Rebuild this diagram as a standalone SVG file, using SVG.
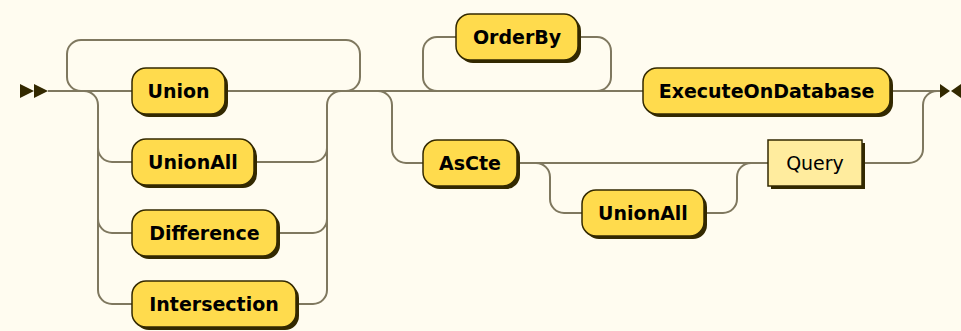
<svg xmlns="http://www.w3.org/2000/svg" width="961" height="331" viewBox="0 0 961 331">
<style>
.bg{fill:#FFFCF0}
.line{fill:none;stroke:#7f785f;stroke-width:2}
.mk{fill:#332900}
.sh{fill:#332900}
.t{fill:#FFDB4D;stroke:#332900;stroke-width:1.5}
.nt{fill:#FFEC9E;stroke:#332900;stroke-width:1.5}
.tt{font-family:"DejaVu Sans",Verdana,sans-serif;font-weight:bold;font-size:19px;fill:#000;text-anchor:middle}
.nn{font-family:"DejaVu Sans",Verdana,sans-serif;font-size:19px;fill:#000;text-anchor:middle}
</style>
<rect class="bg" x="0" y="0" width="961" height="331"/>
<g id="connectors">
<polygon class="mk" points="20,84 34,91 20,98"/>
<polygon class="mk" points="34,84 48,91 34,98"/>
<path class="line" d="M48 91 H132"/>
<path class="line" d="M81 91 A14 14 0 0 1 67 77 V54 A14 14 0 0 1 81 40 H346 A14 14 0 0 1 360 54 V77 A14 14 0 0 1 346 91"/>
<path class="line" d="M84 91 A14 14 0 0 1 98 105 V290 A14 14 0 0 0 112 304 H132"/>
<path class="line" d="M98 148 A14 14 0 0 0 112 162 H132"/>
<path class="line" d="M98 219 A14 14 0 0 0 112 233 H132"/>
<path class="line" d="M225 91 H643"/>
<path class="line" d="M254 162 H313 A14 14 0 0 0 327 148"/>
<path class="line" d="M277 233 H313 A14 14 0 0 0 327 219"/>
<path class="line" d="M296 304 H313 A14 14 0 0 0 327 290 V105 A14 14 0 0 1 341 91"/>
<path class="line" d="M378 91 A14 14 0 0 1 392 105 V149 A14 14 0 0 0 406 163 H423"/>
<path class="line" d="M437 91 A14 14 0 0 1 423 77 V51 A14 14 0 0 1 437 37 H456"/>
<path class="line" d="M578 37 H597 A14 14 0 0 1 611 51 V77 A14 14 0 0 1 597 91"/>
<path class="line" d="M517 163 H768"/>
<path class="line" d="M536 163 A14 14 0 0 1 550 177 V199 A14 14 0 0 0 564 213 H582"/>
<path class="line" d="M704 213 H723 A14 14 0 0 0 737 199 V177 A14 14 0 0 1 751 163"/>
<path class="line" d="M862 163 H909 A14 14 0 0 0 923 149 V105 A14 14 0 0 1 937 91"/>
<path class="line" d="M890 91 H941"/>
<polygon class="mk" points="940,84 950,91 940,98"/>
<polygon class="mk" points="961,84 951,91 961,98"/>
</g>
<g id="union">
<rect class="sh" x="135" y="71" width="93" height="46" rx="14"/>
<rect class="t" x="132" y="68" width="93" height="46" rx="14"/>
<text class="tt" x="178.5" y="98">Union</text>
</g>
<g id="unionall1">
<rect class="sh" x="135" y="142" width="122" height="46" rx="14"/>
<rect class="t" x="132" y="139" width="122" height="46" rx="14"/>
<text class="tt" x="193" y="169">UnionAll</text>
</g>
<g id="difference">
<rect class="sh" x="135" y="213" width="145" height="46" rx="14"/>
<rect class="t" x="132" y="210" width="145" height="46" rx="14"/>
<text class="tt" x="204.5" y="240">Difference</text>
</g>
<g id="intersection">
<rect class="sh" x="135" y="284" width="164" height="46" rx="14"/>
<rect class="t" x="132" y="281" width="164" height="46" rx="14"/>
<text class="tt" x="214" y="311">Intersection</text>
</g>
<g id="orderby">
<rect class="sh" x="459" y="17" width="122" height="46" rx="14"/>
<rect class="t" x="456" y="14" width="122" height="46" rx="14"/>
<text class="tt" x="517" y="44">OrderBy</text>
</g>
<g id="executeondatabase">
<rect class="sh" x="646" y="71" width="247" height="46" rx="14"/>
<rect class="t" x="643" y="68" width="247" height="46" rx="14"/>
<text class="tt" x="766.5" y="98">ExecuteOnDatabase</text>
</g>
<g id="ascte">
<rect class="sh" x="426" y="143" width="94" height="46" rx="14"/>
<rect class="t" x="423" y="140" width="94" height="46" rx="14"/>
<text class="tt" x="470" y="170">AsCte</text>
</g>
<g id="unionall2">
<rect class="sh" x="585" y="193" width="122" height="46" rx="14"/>
<rect class="t" x="582" y="190" width="122" height="46" rx="14"/>
<text class="tt" x="643" y="220">UnionAll</text>
</g>
<g id="query">
<rect class="sh" x="771" y="143" width="94" height="46"/>
<rect class="nt" x="768" y="140" width="94" height="46"/>
<text class="nn" x="815" y="170">Query</text>
</g>
</svg>
